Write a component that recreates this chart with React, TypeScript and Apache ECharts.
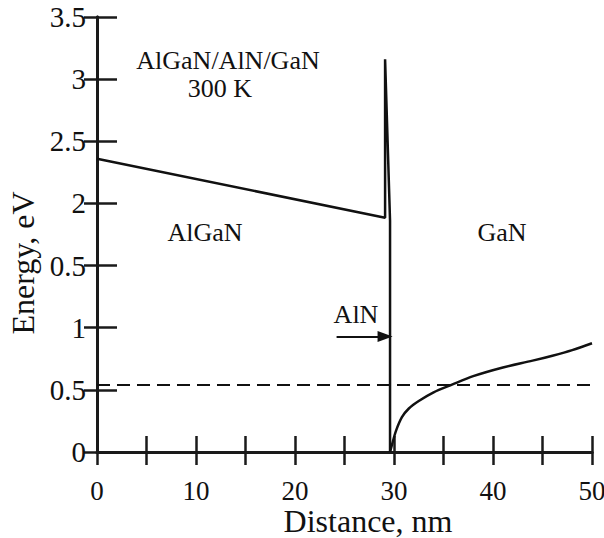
import React, { useEffect, useRef } from "react";
import * as echarts from "echarts";

const yTickLabels = ["0", "0.5", "1", "0.5", "2", "2.5", "3", "3.5"];
const xTickLabels = ["0", "10", "20", "30", "40", "50"];

// AlGaN slope + AlN spike + drop into GaN
const barrierBand: [number, number][] = [
  [0, 2.36],
  [29.1, 1.885],
  [29.1, 3.16],
  [29.6, 1.86],
  [29.6, 0],
];

// GaN conduction band (2DEG well)
const ganBand: [number, number][] = [
  [29.6, 0],
  [29.8, 0.06],
  [30.2, 0.17],
  [30.8, 0.28],
  [31.5, 0.35],
  [32.5, 0.41],
  [34, 0.48],
  [35.8, 0.54],
  [38, 0.61],
  [41, 0.68],
  [44, 0.735],
  [46, 0.775],
  [48, 0.82],
  [50, 0.875],
];

const fermiLevel = 0.54;
const arrowY = 0.93;
const arrowFrom = 24.2;
const arrowTo = 29.1;

const FONT = "Liberation Serif";

export default function App() {
  const ref = useRef<HTMLDivElement>(null);
  useEffect(() => {
    document.body.style.margin = "0";
    const chart = echarts.init(ref.current!, null, { renderer: "svg" });
    const axisLine = { show: true, lineStyle: { color: "#1a1a1a", width: 3 } };
    const txt = (text: string, x: number, y: number, size = 26, rotation = 0) => ({
      type: "text",
      x,
      y,
      rotation,
      style: { text, fontFamily: FONT, fontSize: size, fill: "#111", align: "center", verticalAlign: "middle" },
    });
    chart.setOption({
      animation: false,
      backgroundColor: "#ffffff",
      grid: { left: 97, top: 17, width: 495, height: 435, containLabel: false, outerBoundsMode: "none" },
      xAxis: [
        {
          type: "value",
          min: 0,
          max: 50,
          interval: 5,
          axisLine,
          axisTick: { show: true, inside: true, length: 16, lineStyle: { color: "#1a1a1a", width: 2.5 } },
          splitLine: { show: false },
          axisLabel: {
            color: "#111",
            fontFamily: FONT,
            fontSize: 27,
            margin: 25,
            formatter: (v: number) => (v % 10 === 0 ? xTickLabels[v / 10] : ""),
          },
        },
        {
          type: "value",
          position: "top",
          min: 0,
          max: 50,
          interval: 5,
          axisLine,
          axisTick: { show: true, inside: true, length: 13, lineStyle: { color: "#1a1a1a", width: 2.5 } },
          axisLabel: { show: false },
          splitLine: { show: false },
        },
      ],
      yAxis: [
        {
          type: "value",
          min: 0,
          max: 3.5,
          interval: 0.5,
          axisLine,
          axisTick: { show: true, inside: true, length: 20, lineStyle: { color: "#1a1a1a", width: 2.5 } },
          splitLine: { show: false },
          axisLabel: {
            color: "#111",
            fontFamily: FONT,
            fontSize: 29,
            margin: 11,
            formatter: (v: number) => yTickLabels[Math.round(v / 0.5)],
          },
        },
        {
          type: "value",
          position: "right",
          min: 0,
          max: 3.5,
          interval: 0.5,
          axisLine,
          axisTick: { show: true, inside: true, length: 13, lineStyle: { color: "#1a1a1a", width: 2.5 } },
          axisLabel: { show: false },
          splitLine: { show: false },
        },
      ],
      series: [
        {
          name: "Barrier",
          type: "line",
          data: barrierBand,
          symbol: "none",
          lineStyle: { color: "#111", width: 2.5 },
          z: 3,
        },
        {
          name: "GaN",
          type: "line",
          data: ganBand,
          symbol: "none",
          smooth: 0.3,
          lineStyle: { color: "#111", width: 2.5 },
          z: 3,
        },
        {
          name: "Fermi",
          type: "line",
          data: [
            [0, fermiLevel],
            [50, fermiLevel],
          ],
          symbol: "none",
          lineStyle: { color: "#111", width: 2, type: [13, 7] },
          z: 2,
        },
        {
          name: "Arrow",
          type: "line",
          data: [],
          markLine: {
            silent: true,
            symbol: ["none", "triangle"],
            symbolSize: [11, 15],
            label: { show: false },
            lineStyle: { color: "#111", width: 2, type: "solid" },
            data: [[{ coord: [arrowFrom, arrowY] }, { coord: [arrowTo, arrowY] }]],
          },
        },
      ],
      graphic: [
        txt("AlGaN/AlN/GaN", 228, 60),
        txt("300 K", 220, 88),
        txt("AlGaN", 205, 232),
        txt("GaN", 502, 232),
        txt("AlN", 356, 314),
        txt("Distance, nm", 368, 521, 32),
        txt("Energy, eV", 23, 263, 32, Math.PI / 2),
      ],
    });
    return () => chart.dispose();
  }, []);
  return <div ref={ref} style={{ position: "absolute", left: 0, top: 0, width: 604, height: 538 }} />;
}
